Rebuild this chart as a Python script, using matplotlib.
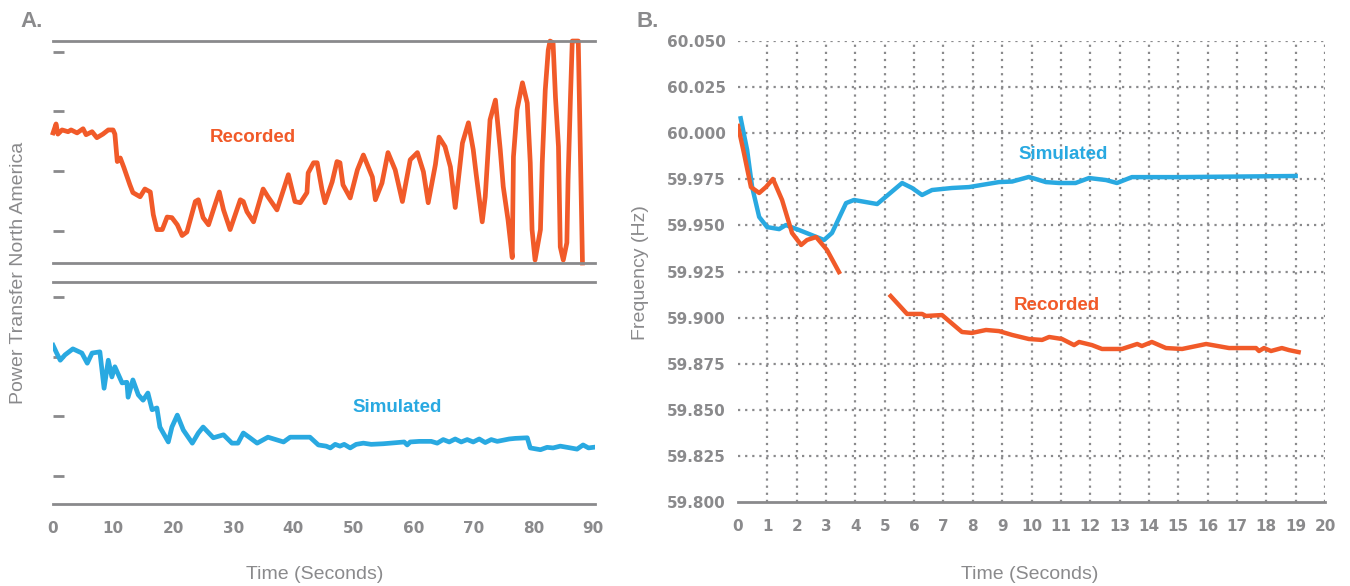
import matplotlib
matplotlib.use("Agg")
import matplotlib.pyplot as plt
import numpy as np

ORANGE = "#F15A29"
BLUE = "#29A9E1"
GRAY = "#8A8A8C"

# ---- panel A: power transfer (arbitrary units, no tick labels) ----
rec_t = [0, 0.5, 0.8, 1.5, 2.5, 3, 4, 5, 5.5, 6.5, 7.3, 8.3, 9.2, 10, 10.3, 10.7,
         11.2, 11.8, 12.8, 13.3, 14.5, 15.3, 16.2, 16.7, 17.3, 18.2, 19, 19.8,
         20.7, 21.5, 22.3, 23.7, 24.2, 25, 25.9, 27, 27.7, 28.4, 29.5, 31.2, 31.7,
         32.3, 33.4, 35, 35.8, 37.3, 38.4, 39.2, 40.3, 41.2, 42.3, 42.5, 43.4, 44,
         44.8, 45.3, 46.5, 47.3, 47.8, 48.3, 49.5, 50.7, 51.7, 53.2, 53.7, 54.8,
         55.8, 57, 58.2, 59.5, 60.7, 61.7, 62.5, 63.7, 64.3, 65.3, 66.2, 67, 68.2,
         69.2, 70, 70.5, 71.5, 72, 72.8, 73.7, 74.5, 75, 75.8, 76.5, 76.7, 77.3,
         78.2, 79, 79.5, 79.8, 80.3, 81.2, 81.5, 82, 82.5, 82.8, 83.3, 83.7, 84.2,
         84.5, 85, 85.6, 85.8, 86.2, 86.5, 87.5, 88.2]
rec_v = [2.64, 2.79, 2.62, 2.69, 2.66, 2.69, 2.64, 2.71, 2.61, 2.66, 2.56, 2.62,
         2.69, 2.69, 2.62, 2.16, 2.22, 2.06, 1.77, 1.64, 1.57, 1.70, 1.65, 1.27,
         1.02, 1.02, 1.23, 1.22, 1.10, 0.92, 0.98, 1.49, 1.52, 1.22, 1.10, 1.44,
         1.65, 1.35, 1.02, 1.52, 1.49, 1.32, 1.15, 1.70, 1.57, 1.35, 1.69, 1.94,
         1.49, 1.47, 1.64, 1.97, 2.14, 2.14, 1.69, 1.47, 1.82, 2.16, 2.14, 1.77,
         1.55, 2.02, 2.27, 1.90, 1.52, 1.80, 2.31, 2.02, 1.49, 2.19, 2.31, 1.99,
         1.47, 2.11, 2.57, 2.41, 2.07, 1.39, 2.47, 2.81, 2.36, 1.94, 1.15, 1.57,
         2.86, 3.19, 2.36, 1.74, 1.18, 0.55, 2.24, 3.03, 3.48, 3.14, 2.14, 1.02,
         0.51, 1.02, 2.14, 3.36, 4.03, 4.18, 4.15, 3.24, 2.41, 0.73, 0.51, 0.80,
         1.85, 3.24, 4.18, 4.18, 0.46]

sim_t = [0, 0.6, 1.2, 2, 3.3, 4.8, 5.7, 6.5, 7.8, 8.5, 9.2, 9.8, 10.3, 11.5,
         12.3, 12.5, 13.3, 14.2, 15, 15.8, 16.5, 17.3, 17.8, 19.2, 19.8, 20.7,
         21.7, 23.2, 24.2, 25, 26.7, 28.4, 29.8, 30.8, 31.7, 32.8, 34, 35.8, 38.4,
         39.5, 42.8, 44.2, 45.5, 46.2, 47, 47.8, 48.5, 49.5, 50.5, 51.7, 53, 55,
         56.2, 58.5, 59, 59.5, 61, 63, 64, 65, 66, 67, 68, 69, 70, 71, 72, 73, 74,
         75, 76, 77, 79, 79.5, 81.2, 82.3, 83.3, 84.5, 86.2, 87.3, 88.3, 89.2, 90]
sim_v = [3.19, 3.06, 2.94, 3.03, 3.13, 3.06, 2.89, 3.06, 3.08, 2.47, 2.94,
         2.66, 2.83, 2.56, 2.57, 2.32, 2.61, 2.36, 2.27, 2.39, 2.11, 2.14, 1.82,
         1.57, 1.82, 2.02, 1.77, 1.55, 1.72, 1.82, 1.64, 1.69, 1.55, 1.55, 1.72,
         1.64, 1.55, 1.65, 1.57, 1.65, 1.65, 1.52, 1.50, 1.47, 1.53, 1.50, 1.53,
         1.47, 1.53, 1.55, 1.53, 1.54, 1.55, 1.57, 1.52, 1.57, 1.58, 1.58, 1.55,
         1.61, 1.57, 1.62, 1.57, 1.61, 1.57, 1.62, 1.56, 1.61, 1.58, 1.60, 1.62,
         1.63, 1.64, 1.47, 1.44, 1.48, 1.47, 1.50, 1.47, 1.45, 1.52, 1.47, 1.48]

# ---- panel B: frequency ----
fsim_t = [0.09, 0.31, 0.48, 0.72, 0.99, 1.40, 1.63, 2.08, 2.93, 3.2, 3.68, 3.95,
          4.74, 5.59, 5.93, 6.27, 6.61, 7.29, 7.87, 8.89, 9.34, 9.91, 10.49, 10.94,
          11.5, 11.96, 12.54, 12.91, 13.42, 15.0, 19.0]
fsim_v = [60.0081, 59.9909, 59.9708, 59.9546, 59.9491, 59.9480, 59.9502, 59.9475,
          59.9421, 59.9459, 59.9621, 59.9638, 59.9616, 59.9730, 59.9703, 59.9665,
          59.9692, 59.9703, 59.9708, 59.9735, 59.9738, 59.9763, 59.9735, 59.9730,
          59.9730, 59.9757, 59.9746, 59.9730, 59.9762, 59.9762, 59.9768]

frec1_t = [0, 0.2, 0.44, 0.72, 0.95, 1.19, 1.5, 1.84, 2.15, 2.35, 2.66, 3.03, 3.44]
frec1_v = [60.0039, 59.9893, 59.9708, 59.9676, 59.9708, 59.9752, 59.9638, 59.9459,
           59.9394, 59.9421, 59.9437, 59.9367, 59.9247]

frec2_t = [5.2, 5.76, 6.27, 6.4, 6.95, 7.63, 7.97, 8.45, 8.89, 9.34, 9.91, 10.36,
           10.6, 11.04, 11.45, 11.62, 12.06, 12.4, 13.08, 13.6, 13.76, 14.1, 14.58,
           15.13, 15.95, 16.73, 17.65, 17.75, 17.92, 18.16, 18.53, 18.77, 19.1]
frec2_v = [59.9117, 59.9020, 59.9020, 59.9009, 59.9014, 59.8922, 59.8917, 59.8933,
           59.8927, 59.8906, 59.8884, 59.8879, 59.8895, 59.8884, 59.8851, 59.8868,
           59.8851, 59.8830, 59.8830, 59.8857, 59.8846, 59.8868, 59.8835, 59.8830,
           59.8857, 59.8835, 59.8835, 59.8819, 59.8835, 59.8819, 59.8835, 59.8824,
           59.8813]

freq_ticks = [59.800, 59.825, 59.850, 59.875, 59.900, 59.925, 59.950, 59.975,
              60.000, 60.025, 60.050]

plt.rcParams['font.family'] = ['Liberation Sans', 'DejaVu Sans']

fig = plt.figure(figsize=(13.5, 5.86), dpi=100)

ax_top = fig.add_axes([0.0393, 0.5512, 0.4015, 0.3788])
ax_bot = fig.add_axes([0.0393, 0.1399, 0.4015, 0.3788])

for ax in (ax_top, ax_bot):
    ax.set_xlim(0, 90.3)
    for s in ('left', 'right'):
        ax.spines[s].set_visible(False)
    for s in ('top', 'bottom'):
        ax.spines[s].set_color(GRAY)
        ax.spines[s].set_linewidth(2)
    ax.set_yticks([1, 2, 3, 4])
    ax.set_yticklabels([])
    ax.tick_params(axis='y', direction='in', length=8, width=2, color=GRAY)

ax_top.set_ylim(0.46, 4.18)
ax_bot.set_ylim(0.53, 4.25)
ax_top.set_xticks([])
ax_bot.set_xticks(range(0, 91, 10))
ax_bot.tick_params(axis='x', length=0, pad=12, labelcolor=GRAY)
for lb in ax_bot.get_xticklabels():
    lb.set_fontfamily('DejaVu Sans')
    lb.set_fontweight('bold')
    lb.set_fontsize(11)

ax_top.plot(rec_t, rec_v, color=ORANGE, lw=3.4, clip_on=False,
            solid_joinstyle='round')
ax_bot.plot(sim_t, sim_v, color=BLUE, lw=3.4, solid_joinstyle='round')
ax_top.text(33.2, 2.56, "Recorded", color=ORANGE, fontsize=13.5, fontweight='bold',
            ha='center', va='center')
ax_bot.text(57.3, 2.14, "Simulated", color=BLUE, fontsize=13.5, fontweight='bold',
            ha='center', va='center')

fig.text(0.0235, 0.963, "A.", color=GRAY, fontsize=16, fontweight='bold',
         ha='center', va='center')
fig.text(0.0138, 0.535, "Power Transfer North America", color=GRAY, fontsize=14,
         rotation=90, ha='center', va='center')
fig.text(0.2333, 0.019, "Time (Seconds)", color=GRAY, fontsize=14,
         ha='center', va='center')

# ---- panel B ----
axb = fig.add_axes([0.5467, 0.1433, 0.4348, 0.7867])
axb.set_xlim(0, 20)
axb.set_ylim(59.8, 60.05)
for s in ('left', 'right', 'top'):
    axb.spines[s].set_visible(False)
axb.spines['bottom'].set_color(GRAY)
axb.spines['bottom'].set_linewidth(2)
axb.set_xticks(range(0, 21))
axb.set_yticks(freq_ticks)
axb.set_yticklabels(["%.3f" % v for v in freq_ticks])
axb.tick_params(length=0, labelcolor=GRAY)
axb.tick_params(axis='x', pad=12)
axb.tick_params(axis='y', pad=9)
for lb in axb.get_xticklabels() + axb.get_yticklabels():
    lb.set_fontfamily('DejaVu Sans')
    lb.set_fontweight('bold')
    lb.set_fontsize(11)

grid_kw = dict(color=GRAY, lw=1.6, linestyle=(0, (1, 2.2)), zorder=0)
for x in range(1, 21):
    axb.axvline(x, **grid_kw)
for y in freq_ticks[1:]:
    axb.axhline(y, **grid_kw)

axb.plot(fsim_t, fsim_v, color=BLUE, lw=3.2, zorder=3, solid_joinstyle='round')
axb.plot(frec1_t, frec1_v, color=ORANGE, lw=3.2, zorder=4, solid_joinstyle='round')
axb.plot(frec2_t, frec2_v, color=ORANGE, lw=3.2, zorder=4, solid_joinstyle='round')
axb.text(11.07, 59.9882, "Simulated", color=BLUE, fontsize=13.5, fontweight='bold',
         ha='center', va='center')
axb.text(10.87, 59.9068, "Recorded", color=ORANGE, fontsize=13.5, fontweight='bold',
         ha='center', va='center')

fig.text(0.480, 0.963, "B.", color=GRAY, fontsize=16, fontweight='bold',
         ha='center', va='center')
fig.text(0.4745, 0.535, "Frequency (Hz)", color=GRAY, fontsize=14,
         rotation=90, ha='center', va='center')
fig.text(0.763, 0.019, "Time (Seconds)", color=GRAY, fontsize=14,
         ha='center', va='center')

fig.savefig("out.png", dpi=100)
